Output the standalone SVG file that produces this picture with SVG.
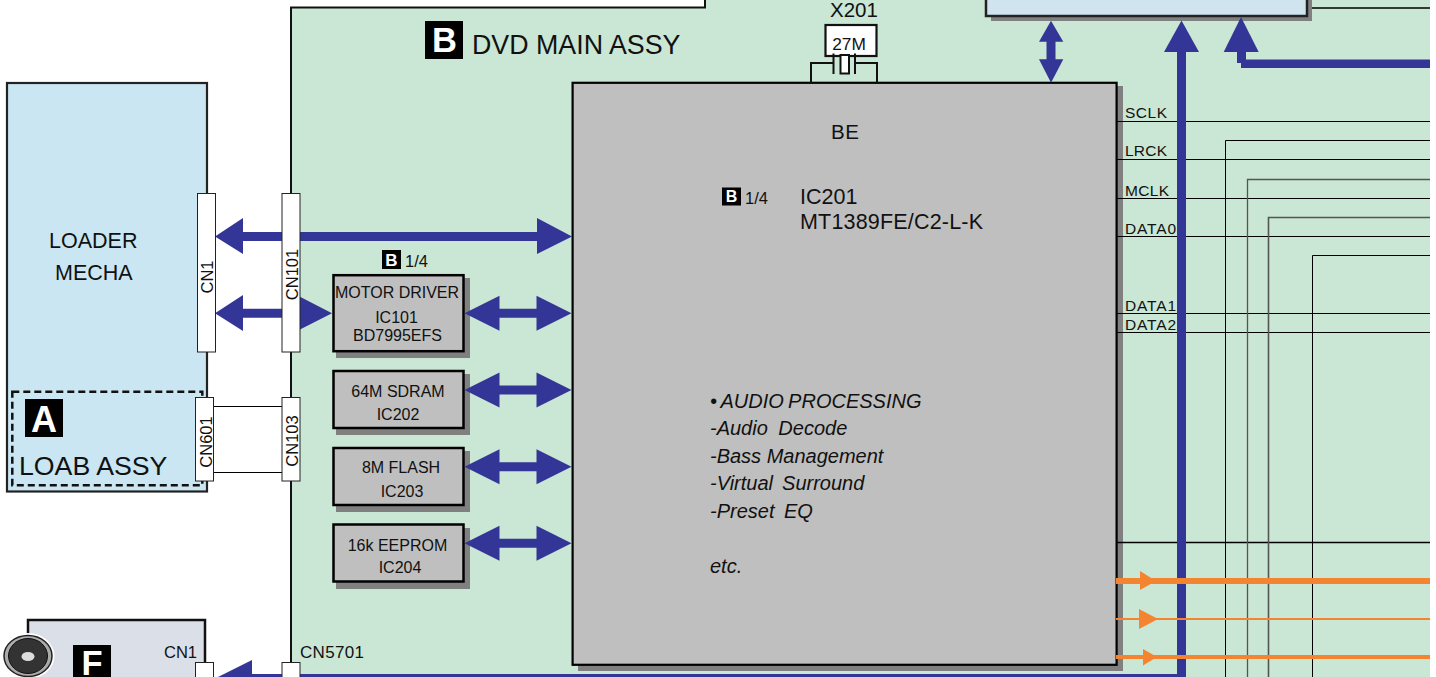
<svg xmlns="http://www.w3.org/2000/svg" width="1436" height="677" viewBox="0 0 1436 677">
<defs><style>
text{font-family:"Liberation Sans",Arial,sans-serif;fill:#111}
.ic{fill:#bfbfbf;stroke:#000;stroke-width:2.5}
.sh{fill:#808080}
.conn{fill:#fff;stroke:#222;stroke-width:1}
.blue{fill:#333696}
.or{stroke:#f58430;fill:none}
.orf{fill:#f58430}
.w{stroke:#000;stroke-width:1;fill:none}
.g{stroke:#555;stroke-width:1.3;fill:none}
.t{font-size:16px;text-anchor:middle}
.i{font-size:20px;font-style:italic}
.sig{font-size:15.5px}
.cn{font-size:16.5px;text-anchor:middle}
.badge{fill:#000}
.bt{fill:#fff;font-weight:bold;text-anchor:middle}
</style>
<path id="da" d="M0 0L35 -17.500V-4.500H72V-17.500L107 0 72 17.500V4.500H35V17.500Z" class="blue"/>
</defs>
<rect width="1436" height="677" fill="#fff"/>
<g id="panel-dvd-main">
<path d="M291 677V7.500H705V0H1430V677Z" fill="#cae6d4"/>
<path d="M291 677V7.500H705V0" fill="none" stroke="#111" stroke-width="2"/>
<text x="472" y="54" font-size="26.800">DVD MAIN ASSY</text>
<rect class="badge" x="425" y="21" width="38" height="38"/>
<text class="bt" x="444.500" y="52" font-size="34.500">B</text>
</g>
<g id="top-ic">
<rect class="sh" x="991" y="0" width="321" height="21"/>
<rect x="986" y="-4" width="321" height="20" fill="#d0e4ef" stroke="#222" stroke-width="2.500"/>
</g>
<g id="ic101">
<rect class="sh" x="336" y="278" width="134" height="80"/>
<rect class="ic" x="333.500" y="275.200" width="130" height="76"/>
<text class="t" x="397" y="298.300">MOTOR DRIVER</text>
<text class="t" x="396.500" y="322.500">IC101</text>
<text class="t" x="397.500" y="340.500">BD7995EFS</text>
<rect class="badge" x="382" y="250" width="19" height="19"/>
<text class="bt" x="391.500" y="265.500" font-size="17">B</text>
<text x="405" y="267" font-size="16.500" textLength="23">1/4</text>
</g>
<g id="ic202">
<rect class="sh" x="336" y="374" width="134" height="61"/>
<rect class="ic" x="333.500" y="371" width="130" height="57"/>
<text class="t" x="398" y="397">64M SDRAM</text>
<text class="t" x="398" y="420">IC202</text>
</g>
<g id="ic203">
<rect class="sh" x="336" y="451" width="134" height="61"/>
<rect class="ic" x="333.500" y="448" width="130" height="57"/>
<text class="t" x="401" y="473">8M FLASH</text>
<text class="t" x="402" y="497">IC203</text>
</g>
<g id="ic204">
<rect class="sh" x="336" y="528" width="134" height="61"/>
<rect class="ic" x="333.500" y="524.500" width="130" height="57"/>
<text class="t" x="397.500" y="550.500">16k EEPROM</text>
<text class="t" x="400" y="573.300">IC204</text>
</g>
<g id="ic201">
<rect class="sh" x="578" y="86" width="545" height="585"/>
<rect x="572.600" y="82.800" width="544" height="582" fill="#bfbfbf" stroke="#000" stroke-width="2.200"/>
<text x="831" y="139" font-size="20.500" textLength="28">BE</text>
<rect class="badge" x="722" y="187.500" width="19" height="18"/>
<text class="bt" x="731.500" y="202" font-size="16">B</text>
<text x="745" y="204" font-size="16.500" textLength="23">1/4</text>
<text x="800" y="204" font-size="21.500">IC201</text>
<text x="800" y="228.500" font-size="21.500" textLength="183">MT1389FE/C2-L-K</text>
<text class="i" x="710" y="407.500" style="word-spacing:-1.300px">• AUDIO PROCESSING</text>
<text class="i" x="710" y="434.500" style="word-spacing:5px">-Audio Decode</text>
<text class="i" x="710" y="462.500">-Bass Management</text>
<text class="i" x="710" y="489.500" style="word-spacing:3.500px">-Virtual Surround</text>
<text class="i" x="710" y="517.500" style="word-spacing:4px">-Preset EQ</text>
<text class="i" x="710" y="572.700">etc.</text>
</g>
<g id="loader-mecha">
<rect x="7" y="83" width="200" height="408.500" fill="#cae6f3" stroke="#222" stroke-width="2.200"/>
<text x="49" y="248" font-size="21.500">LOADER</text>
<text x="55" y="280" font-size="21.500">MECHA</text>
<rect x="12.300" y="391.700" width="190" height="93.500" fill="none" stroke="#111" stroke-width="2.500" stroke-dasharray="7 4"/>
<rect class="badge" x="25" y="399" width="38" height="38"/>
<text class="bt" x="44" y="432" font-size="36">A</text>
<text x="19" y="475" font-size="26.700">LOAB ASSY</text>
</g>
<g id="f-assy">
<path d="M28 677V620H205V677" fill="#dbdfe8" stroke="#111" stroke-width="2.500"/>
<ellipse cx="28" cy="656" rx="26.500" ry="23" fill="#fff"/>
<ellipse cx="28" cy="656" rx="24" ry="20.500" fill="#aaa" stroke="#222" stroke-width="1.500"/>
<ellipse cx="28" cy="656" rx="19.500" ry="17.500" fill="#333" stroke="#111"/>
<ellipse cx="28" cy="656.500" rx="6.500" ry="4.500" fill="#ddd"/>
<rect class="badge" x="73" y="645" width="38" height="38"/>
<text class="bt" x="92" y="675" font-size="34.500">F</text>
<text x="164" y="657.500" font-size="16.500">CN1</text>
<text x="300" y="657.500" font-size="17" textLength="64">CN5701</text>
</g>
<g id="x201">
<text x="854" y="17" font-size="20.500" text-anchor="middle">X201</text>
<rect x="825.500" y="25" width="51" height="31" fill="#fff" stroke="#111" stroke-width="2.200"/>
<text x="849" y="49.500" font-size="17.300" text-anchor="middle">27M</text>
<path d="M811 83V63H833.500M877 83V63H855" fill="none" stroke="#111" stroke-width="2"/>
<path d="M833.500 53.500V74M855 53.500V74" stroke="#111" stroke-width="2"/>
<rect x="840.500" y="55" width="8.500" height="18.500" fill="#fff" stroke="#111" stroke-width="2"/>
</g>
<g id="connectors">
<path class="w" style="stroke-width:1.500px" d="M1312 8H1430"/>
<path class="w" d="M214 406.500H282M214 472.500H282"/>
<path class="w" d="M1117 121.500H1430M1117 159.500H1430M1117 198.500H1430M1117 236.500H1430M1117 313.500H1430M1117 332.500H1430"/>
<path class="w" style="stroke-width:1.500px" d="M1117 542.500H1430"/>
<path class="w" d="M1225.500 677V140.500H1430M1312.500 677V255.500H1430"/>
<path class="g" d="M1247.500 677V179.500H1430"/>
<path class="g" style="stroke-width:1.600px" d="M1268.500 677V217.500H1430"/>
<rect class="blue" x="1177" y="50" width="9" height="627"/>
<rect class="blue" x="1237" y="50" width="9" height="13"/>
<rect class="blue" x="1241" y="59.500" width="189" height="8.500"/>
<path class="blue" d="M1181.500 20.500L1199 52H1164Z"/>
<path class="blue" d="M1241 17L1258.700 52H1223.700Z"/>
<path class="blue" d="M1051 20.700L1063.300 41.700H1055.500V59.300H1063.300L1051 82.700 1039 59.300H1046.500V41.700H1039Z"/>
<rect class="blue" x="240" y="674" width="946" height="3"/>
<path class="blue" d="M218 677L252 660V677Z"/>
<path class="blue" d="M215 236.500L243 218V232H537V218L572 236.500 537 254V241H243V254Z"/>
<path class="blue" d="M215 313.300L243 295V308.800H300V296.700L332 313.300 300 329.500V317.800H243V331Z"/>
<use href="#da" x="464.500" y="313.300"/>
<use href="#da" x="464.500" y="390"/>
<use href="#da" x="464.500" y="466.700"/>
<use href="#da" x="464.500" y="543.300"/>
<path class="or" stroke-width="6" d="M1116 581H1430"/>
<path class="or" stroke-width="2" d="M1116 619H1430"/>
<path class="or" stroke-width="4" d="M1116 657H1430"/>
<path class="orf" d="M1140 571L1156 581 1140 590Z"/>
<path class="orf" d="M1139 609L1158 619 1139 629Z"/>
<path class="orf" d="M1143 649L1157 657 1143 665.500Z"/>
</g>
<g id="cn1"><rect class="conn" x="197.500" y="193.500" width="18" height="158.500"/><text class="cn" transform="translate(213 277) rotate(-90)">CN1</text></g>
<g id="cn101"><rect class="conn" x="282" y="193.500" width="18" height="158.500"/><text class="cn" transform="translate(298 274.500) rotate(-90)">CN101</text></g>
<g id="cn601"><rect class="conn" x="195.500" y="397.500" width="18" height="83.500"/><text class="cn" transform="translate(211.500 442) rotate(-90)">CN601</text></g>
<g id="cn103"><rect class="conn" x="282" y="397.500" width="18" height="83.500"/><text class="cn" transform="translate(297.500 441) rotate(-90)">CN103</text></g>
<g id="cn1-f"><rect class="conn" x="195.500" y="662.500" width="18" height="20"/></g>
<g id="cn5701"><rect class="conn" x="282" y="662.500" width="18" height="20"/></g>
<g id="signal-labels">
<text class="sig" x="1125" y="118" textLength="42">SCLK</text>
<text class="sig" x="1125" y="155.700" textLength="42">LRCK</text>
<text class="sig" x="1125" y="196" textLength="44">MCLK</text>
<text class="sig" x="1125" y="234" textLength="51">DATA0</text>
<text class="sig" x="1125" y="311" textLength="51">DATA1</text>
<text class="sig" x="1125" y="330" textLength="51">DATA2</text>
</g>
</svg>
